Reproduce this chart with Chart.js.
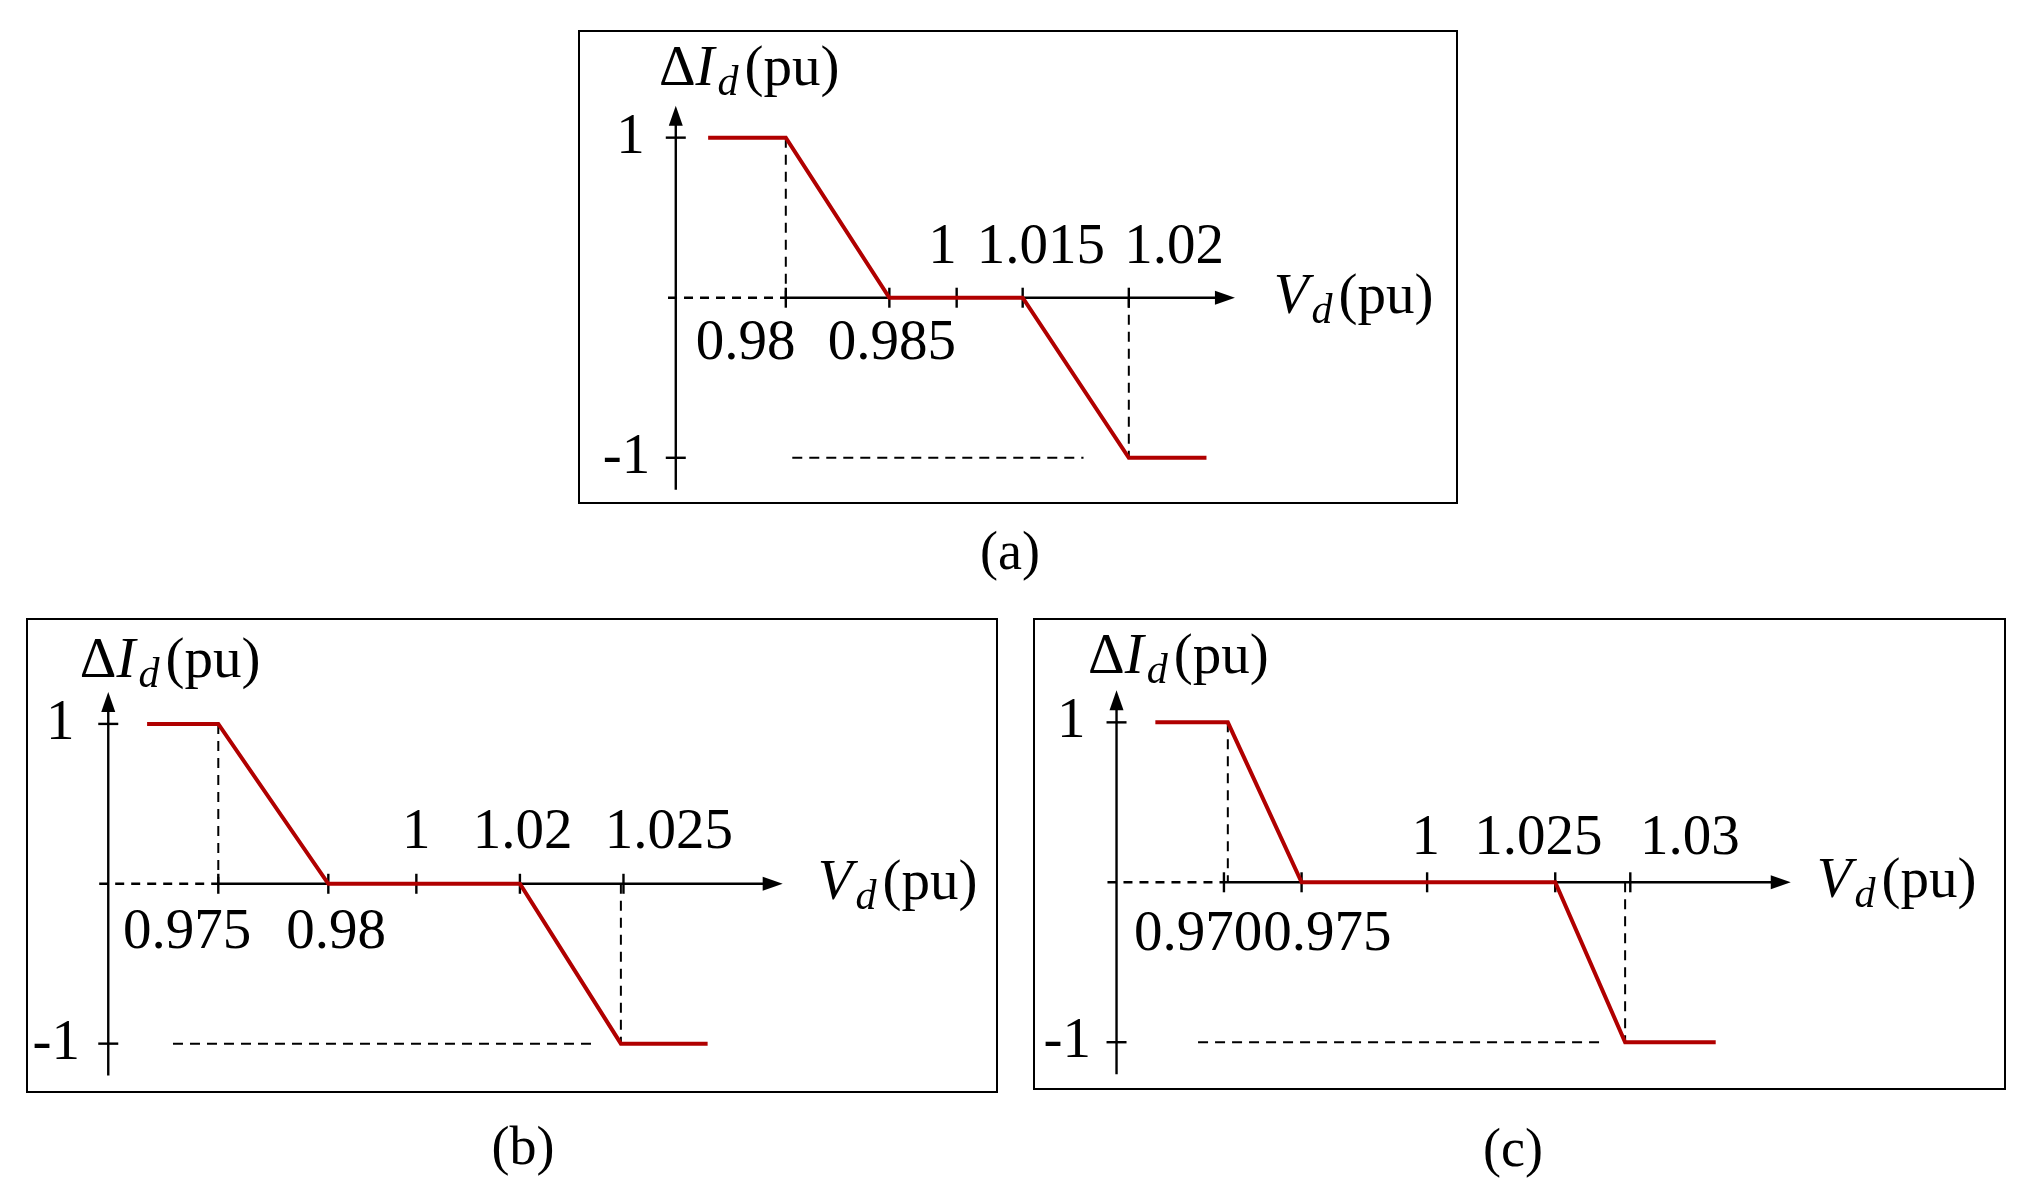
<!DOCTYPE html>
<html><head><meta charset="utf-8">
<script src="https://cdn.jsdelivr.net/npm/chart.js@4"></script>
<style>
body{margin:0;background:#fff;width:2030px;height:1192px;position:relative;overflow:hidden;font-family:"Liberation Serif",serif}
.box{position:absolute;border:2.6px solid #000;box-sizing:border-box}
.cap{position:absolute;font-size:54px;transform:translateX(-50%)}
</style></head><body>
<div class="box" id="ba" style="left:578px;top:30px;width:880px;height:474px"><canvas id="ca"></canvas></div>
<div class="box" id="bb" style="left:26px;top:618px;width:972px;height:475px"><canvas id="cb"></canvas></div>
<div class="box" id="bc" style="left:1033px;top:618px;width:973px;height:472px"><canvas id="cc"></canvas></div>
<div class="cap" style="left:1010px;top:520px">(a)</div>
<div class="cap" style="left:523px;top:1115px">(b)</div>
<div class="cap" style="left:1513px;top:1117px">(c)</div>
<script>
// Schematic x positions (relative to the vertical axis) and ΔId values
const aX=[25,85,165,268,350,410], aY=[1,1,0,0,-1,-1];
const aTickPos=[85,165,217,268,350], aTickLabels=['0.98','0.985','1','1.015','1.02'], aTickSide=['b','b','t','t','t'];
const aLabelPos=[54,167,206,282,385];
const bX=[30,85,170,318,396,463], bY=[1,1,0,0,-1,-1];
const bTickPos=[85,170,238,318,398], bTickLabels=['0.975','0.98','1','1.02','1.025'], bTickSide=['b','b','t','t','t'];
const bLabelPos=[61,176,238,320,433];
const cX=[30,86,143,339,393,463], cY=[1,1,0,0,-1,-1];
const cTickPos=[83,143,240,339,397], cTickLabels=['0.970','0.975','1','1.025','1.03'], cTickSide=['b','b','t','t','t'];
const cLabelPos=[63,163,239,326,443];

const panels=[
 {id:'ca',w:875,h:469,x:aX,y:aY,tp:aTickPos,tl:aTickLabels,ts:aTickSide,lp:aLabelPos,xr:[-74,602],yr:[-1.27,1.66],axEnd:432,axStart:-6,hd:[90,315],tY:0.31,bY:-0.29,tx:-13,ty:1.42,ylx:-35,vx:462},
 {id:'cb',w:967,h:470,x:bX,y:bY,tp:bTickPos,tl:bTickLabels,ts:bTickSide,lp:bLabelPos,xr:[-62,685],yr:[-1.29,1.65],axEnd:521,axStart:-7,hd:[50,373],tY:0.32,bY:-0.31,tx:-22,ty:1.39,ylx:-37,vx:548},
 {id:'cc',w:968,h:467,x:cX,y:cY,tp:cTickPos,tl:cTickLabels,ts:cTickSide,lp:cLabelPos,xr:[-63,685],yr:[-1.28,1.64],axEnd:521,axStart:-7,hd:[63,373],tY:0.27,bY:-0.33,tx:-22,ty:1.4,ylx:-35,vx:541}
];
const F=57;
function rich(ctx,parts,x,y){ // parts: [text, style, sub, gapAfter]
  let cx=x;
  for(const [t,st,sub,gap] of parts){
    ctx.font=(st?st+' ':'')+(sub?42:F)+'px "Liberation Serif"';
    ctx.fillText(t,cx,y+(sub?14:0)); cx+=ctx.measureText(t).width+(gap||0);
  }
}
function arrow(ctx,x,y,dir){
  ctx.beginPath();
  if(dir==='r'){ctx.moveTo(x,y);ctx.lineTo(x-20,y-7);ctx.lineTo(x-20,y+7);}
  else{ctx.moveTo(x,y);ctx.lineTo(x-7,y+20);ctx.lineTo(x+7,y+20);}
  ctx.closePath();ctx.fill();
}
panels.forEach(p=>{
  const cv=document.getElementById(p.id); cv.width=p.w; cv.height=p.h;
  const deco={id:'deco',
    beforeDatasetsDraw(ch){
      const c=ch.ctx,X=ch.scales.x,Y=ch.scales.y;
      const px=v=>X.getPixelForValue(v), py=v=>Y.getPixelForValue(v);
      c.save();c.strokeStyle='#000';c.fillStyle='#000';c.lineWidth=2.4;
      c.setLineDash([9,7]);c.beginPath();c.moveTo(px(p.axStart),py(0));c.lineTo(px(p.tp[0]),py(0));c.stroke();
      c.setLineDash([]);c.beginPath();c.moveTo(px(p.tp[0]),py(0));c.lineTo(px(p.axEnd)-15,py(0));c.stroke();
      arrow(c,px(p.axEnd),py(0),'r');
      c.beginPath();c.moveTo(px(0),py(-1.2));c.lineTo(px(0),py(1.2)+15);c.stroke();
      arrow(c,px(0),py(1.2),'u');
      p.tp.forEach(t=>{c.beginPath();c.moveTo(px(t),py(0)-10);c.lineTo(px(t),py(0)+10);c.stroke();});
      [1,-1].forEach(v=>{c.beginPath();c.moveTo(px(0)-10,py(v));c.lineTo(px(0)+10,py(v));c.stroke();});
      c.lineWidth=2;c.setLineDash([10,7]);
      c.beginPath();c.moveTo(px(p.x[1]),py(1));c.lineTo(px(p.x[1]),py(0));c.stroke();
      c.beginPath();c.moveTo(px(p.x[4]),py(0));c.lineTo(px(p.x[4]),py(-1));c.stroke();
      c.beginPath();c.moveTo(px(p.hd[0]),py(-1));c.lineTo(px(p.hd[1]),py(-1));c.stroke();
      c.restore();
    },
    afterDraw(ch){
      const c=ch.ctx,X=ch.scales.x,Y=ch.scales.y;
      const px=v=>X.getPixelForValue(v), py=v=>Y.getPixelForValue(v);
      c.save();c.fillStyle='#000';c.textBaseline='middle';c.font=F+'px "Liberation Serif"';
      c.textAlign='center';
      p.tl.forEach((l,i)=>c.fillText(l,px(p.lp[i]),py(p.ts[i]==='t'?p.tY:p.bY)));
      c.fillText('1',px(p.ylx),py(1));c.fillText('-1',px(p.ylx)-4,py(-1));
      c.textAlign='left';
      rich(c,[['Δ','',0,0],['I','italic',0,3],['d','italic',1,6],['(pu)','']],px(p.tx),py(p.ty));
      rich(c,[['V','italic',0,3],['d','italic',1,6],['(pu)','']],px(p.vx),py(0));
      c.restore();
    }};
  new Chart(cv,{type:'line',
    data:{datasets:[{data:p.x.map((v,i)=>({x:v,y:p.y[i]})),borderColor:'#b00000',borderWidth:4,pointRadius:0,tension:0}]},
    options:{responsive:false,animation:false,devicePixelRatio:1,layout:{padding:0},
      plugins:{legend:{display:false},tooltip:{enabled:false}},
      scales:{x:{type:'linear',display:false,min:p.xr[0],max:p.xr[1]},y:{display:false,min:p.yr[0],max:p.yr[1]}}},
    plugins:[deco]});
});
</script></body></html>
